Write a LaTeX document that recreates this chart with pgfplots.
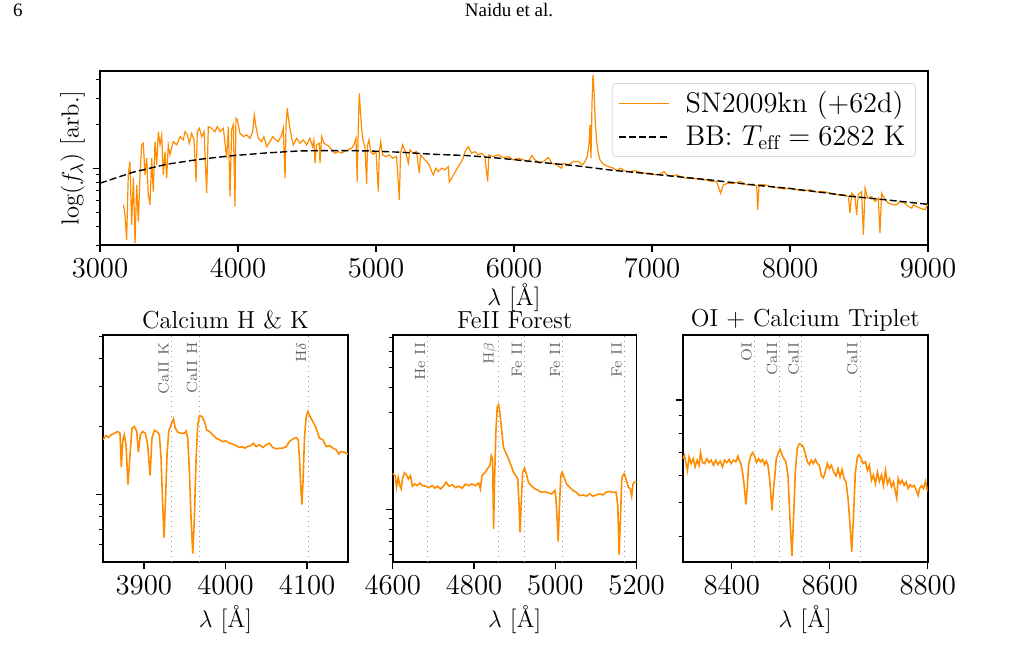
\documentclass[border=0pt]{standalone}
\usepackage{fontspec}
\usepackage{pgfplots}
\pgfplotsset{compat=1.18}
\newfontfamily\timesfont{Liberation Serif}
\definecolor{sporange}{HTML}{FF8C00}
\pgfplotsset{
  specax/.style={
    scale only axis,
    axis line style={line width=0.8pt},
    tick align=outside, tick pos=left,
    major tick length=3.5pt, minor tick length=2pt,
    every major tick/.style={black, line width=0.7pt},
    every minor tick/.style={black, line width=0.5pt},
    ytick={0}, yticklabel=\empty,
    xticklabel style={font=\fontsize{14.5}{16}\selectfont},
    /pgf/number format/1000 sep={},
    label style={font=\fontsize{12.3}{14}\selectfont},
    every axis title/.style={at={(axis description cs:0.5,1.066)}, anchor=center, font=\fontsize{12.3}{14}\selectfont},
  },
}
\tikzset{
  annot/.style={rotate=90, anchor=south east, inner sep=1pt, text=black!60, font=\fontsize{7.4}{8}\selectfont},
  vline/.style={black!40, dotted, line width=0.5pt},
}
\begin{document}
\begin{tikzpicture}
\useasboundingbox (0,0) rectangle (509pt,330pt);
\node[anchor=base west, font=\timesfont\fontsize{9.5}{11}\selectfont] at (3pt,321.5pt) {6};
\node[anchor=base, font=\timesfont\fontsize{9.5}{11}\selectfont] at (254.5pt,321.5pt) {Naidu et al.};

% ---------------- top panel ----------------
\begin{axis}[specax, at={(50pt,207.5pt)}, anchor=south west, width=414pt, height=87pt,
  xmin=3000, xmax=9000, ymin=-0.523, ymax=0.662,
  xtick={3000,4000,5000,6000,7000,8000,9000},
  minor ytick={-0.523,-0.398,-0.301,-0.222,-0.155,-0.097,-0.046,0.301,0.477,0.602},
  xlabel={$\lambda$ [\AA]}, xlabel style={at={(axis description cs:0.5,-0.305)}, anchor=center},
  ylabel={$\log(f_\lambda)$ [arb.]}, ylabel style={at={(axis description cs:-0.0332,0.5)}, anchor=center, rotate=0},
  legend style={at={(0.9855,0.931)}, anchor=north east, draw=black!15, rounded corners=2pt,
    fill=white, fill opacity=0.8, text opacity=1, font=\fontsize{14.2}{16}\selectfont,
    inner xsep=3pt, inner ysep=2pt, row sep=1pt},
  legend cell align=left,
  legend image code/.code={\draw[#1] (0pt,0pt) -- (25pt,0pt); \path (31pt,0pt);},
]
\addplot[sporange, line width=0.6pt, no markers] table {
3169 -0.249
3181 -0.317
3193 -0.488
3205 -0.045
3217 0.045
3229 -0.385
3242 -0.068
3254 -0.510
3266 -0.113
3278 -0.363
3290 -0.045
3302 0.159
3314 0.170
3326 -0.045
3338 0.068
3350 -0.181
3362 -0.249
3374 0.068
3386 -0.159
3399 0.181
3411 0.023
3423 0.249
3435 0.159
3447 0.227
3459 -0.045
3471 0.113
3483 -0.068
3495 0.159
3507 0.091
3519 0.136
3531 0.181
3556 0.159
3580 0.215
3604 0.193
3616 0.249
3633 0.227
3647 0.170
3664 0.238
3681 0.193
3696 -0.091
3705 0.249
3720 0.272
3737 0.215
3754 0.249
3773 -0.170
3785 0.283
3809 0.272
3833 0.249
3850 0.283
3870 0.249
3894 0.272
3918 0.068
3930 0.283
3942 -0.193
3954 0.261
3966 0.295
3978 -0.261
3985 0.340
3995 0.329
4014 0.238
4039 0.215
4063 0.227
4087 0.204
4106 0.249
4118 0.363
4130 0.283
4147 0.204
4171 0.181
4188 0.215
4208 0.147
4232 0.181
4251 0.215
4275 0.193
4292 0.181
4316 0.227
4328 0.272
4341 -0.068
4348 0.295
4357 0.408
4372 0.295
4389 0.204
4401 0.159
4425 0.204
4449 0.170
4473 0.193
4497 0.159
4521 0.204
4541 0.147
4550 0.193
4558 0.034
4570 0.159
4589 0.170
4594 0.034
4606 0.215
4623 0.170
4642 0.159
4662 0.147
4678 0.125
4703 0.102
4727 0.113
4751 0.102
4775 0.118
4799 0.125
4823 0.136
4840 0.159
4855 0.204
4864 -0.091
4872 0.295
4879 0.510
4889 0.363
4898 0.249
4908 0.181
4920 0.147
4932 -0.109
4939 0.159
4949 0.193
4961 0.113
4980 0.095
5000 0.113
5017 -0.159
5024 0.102
5034 0.181
5048 0.091
5072 0.079
5096 0.091
5120 0.068
5149 0.079
5169 -0.215
5178 0.102
5193 0.159
5217 0.102
5234 0.034
5246 0.125
5270 0.102
5294 0.113
5314 -0.034
5323 0.091
5343 0.068
5367 0.045
5386 0.023
5403 -0.023
5415 -0.045
5434 0.000
5451 -0.023
5476 0.000
5500 -0.011
5524 0.011
5531 -0.095
5632 0.068
5645 0.113
5669 0.147
5693 0.102
5717 0.113
5741 0.091
5765 0.102
5789 0.079
5809 -0.091
5818 0.091
5850 0.079
5886 0.091
5922 0.073
5959 0.079
5995 0.057
6031 0.068
6068 0.057
6104 0.045
6128 0.086
6152 0.057
6188 0.034
6213 0.045
6249 0.073
6273 0.034
6309 0.023
6345 0.000
6357 0.034
6394 0.023
6430 0.045
6466 0.045
6498 0.023
6514 0.045
6531 0.079
6543 0.159
6551 0.295
6558 0.068
6565 0.431
6572 0.635
6580 0.522
6589 0.317
6599 0.181
6611 0.102
6623 0.057
6647 0.027
6684 0.011
6720 0.000
6749 -0.018
6768 0.000
6804 -0.018
6841 -0.023
6877 -0.018
6913 -0.027
6949 -0.034
6985 -0.034
7022 -0.045
7058 -0.041
7087 -0.023
7106 -0.045
7142 -0.057
7179 -0.045
7215 -0.063
7251 -0.068
7287 -0.068
7324 -0.073
7360 -0.079
7396 -0.079
7432 -0.091
7468 -0.091
7497 -0.170
7517 -0.113
7553 -0.102
7590 -0.102
7638 -0.091
7686 -0.113
7735 -0.109
7759 -0.125
7766 -0.283
7776 -0.113
7819 -0.113
7855 -0.125
7904 -0.132
7952 -0.141
8000 -0.136
8049 -0.147
8097 -0.154
8145 -0.147
8193 -0.163
8242 -0.159
8290 -0.170
8338 -0.181
8387 -0.181
8423 -0.193
8435 -0.306
8447 -0.170
8471 -0.193
8483 -0.317
8495 -0.181
8519 -0.159
8532 -0.454
8544 -0.136
8561 -0.204
8592 -0.193
8616 -0.227
8640 -0.204
8652 -0.442
8664 -0.170
8689 -0.215
8713 -0.238
8749 -0.249
8773 -0.249
8797 -0.227
8833 -0.238
8858 -0.261
8882 -0.272
8894 -0.249
8918 -0.261
8942 -0.272
8978 -0.283
8998 -0.245
};
\addlegendentry{SN2009kn (+62d)}
\addplot[black, dash pattern=on 3.5pt off 1.6pt, line width=0.7pt, no markers] table {
3000 -0.102
3241 -0.027
3483 0.027
3725 0.061
3966 0.086
4208 0.104
4449 0.118
4688 0.120
4935 0.118
5174 0.109
5413 0.095
5659 0.086
5898 0.068
6210 0.038
6456 0.016
6695 -0.012
6935 -0.034
7181 -0.057
7420 -0.080
7732 -0.114
7978 -0.136
8217 -0.163
8456 -0.193
8703 -0.216
9000 -0.246
};
\addlegendentry{BB: $T_{\mathrm{eff}}=6282$ K}
\end{axis}

% ---------------- panel 1 ----------------
\begin{axis}[specax, at={(51.5pt,49pt)}, anchor=south west, width=122.5pt, height=113.5pt,
  xmin=3850, xmax=4150, ymin=-0.30, ymax=0.705,
  xtick={3900,4000,4100},
  minor ytick={-0.222,-0.155,-0.097,-0.046,0.301,0.477,0.602,0.699},
  title={Calcium H \& K},
  xlabel={$\lambda$ [\AA]}, xlabel style={at={(axis description cs:0.5,-0.255)}, anchor=center},
]
\draw[vline] (axis cs:3933.7,-0.30) -- (axis cs:3933.7,0.705);
\draw[vline] (axis cs:3968.5,-0.30) -- (axis cs:3968.5,0.705);
\draw[vline] (axis cs:4101.7,-0.30) -- (axis cs:4101.7,0.705);
\node[annot] at (axis cs:3933.7,0.683) {CaII K};
\node[annot] at (axis cs:3968.5,0.683) {CaII H};
\node[annot] at (axis cs:4101.7,0.683) {H$\delta$};
\addplot[sporange, line width=0.8pt, no markers] table {
3850.0 0.241
3853.7 0.260
3857.1 0.251
3859.8 0.263
3863.9 0.270
3868.0 0.278
3870.8 0.270
3872.5 0.119
3874.1 0.233
3876.1 0.263
3878.2 0.219
3880.6 0.043
3883.1 0.175
3885.5 0.292
3888.4 0.300
3891.3 0.278
3893.3 0.186
3895.7 0.263
3898.6 0.278
3901.9 0.270
3904.7 0.219
3907.6 0.084
3910.0 0.248
3912.9 0.283
3915.8 0.278
3919.0 0.263
3921.1 0.160
3923.1 -0.046
3924.7 -0.192
3926.4 -0.046
3928.4 0.175
3930.5 0.278
3933.3 0.307
3936.2 0.333
3938.6 0.292
3941.5 0.275
3945.6 0.270
3949.7 0.270
3951.7 0.280
3953.8 0.248
3955.8 0.101
3957.8 -0.104
3959.9 -0.263
3961.9 -0.104
3964.0 0.160
3966.0 0.307
3968.1 0.348
3971.3 0.344
3974.2 0.322
3977.0 0.285
3980.3 0.278
3984.4 0.263
3988.5 0.248
3992.6 0.241
3996.6 0.233
4000.7 0.236
4004.8 0.226
4008.9 0.222
4013.0 0.216
4017.1 0.207
4020.3 0.211
4023.2 0.204
4027.3 0.211
4031.4 0.216
4034.2 0.226
4037.5 0.211
4041.6 0.219
4045.7 0.207
4049.8 0.219
4053.8 0.226
4057.9 0.207
4062.0 0.201
4066.1 0.204
4070.2 0.204
4074.3 0.211
4078.3 0.233
4082.4 0.245
4086.5 0.251
4089.0 0.241
4090.6 0.160
4092.2 0.028
4093.5 -0.046
4095.1 0.072
4096.7 0.248
4098.8 0.344
4100.8 0.366
4103.7 0.344
4106.9 0.322
4111.0 0.292
4115.1 0.248
4119.2 0.241
4123.3 0.211
4127.4 0.216
4131.5 0.204
4135.5 0.197
4138.8 0.178
4141.7 0.189
4145.7 0.186
4150.0 0.178
};
\end{axis}

% ---------------- panel 2 ----------------
\begin{axis}[specax, at={(196.35pt,49pt)}, anchor=south west, width=122pt, height=113.5pt,
  xmin=4600, xmax=5200, ymin=-0.258, ymax=0.859,
  xtick={4600,4800,5000,5200},
  minor ytick={-0.222,-0.155,-0.097,-0.046,0.301,0.477,0.602,0.699,0.778,0.845},
  title={FeII Forest},
  xlabel={$\lambda$ [\AA]}, xlabel style={at={(axis description cs:0.5,-0.255)}, anchor=center},
]
\draw[vline] (axis cs:4686,-0.258) -- (axis cs:4686,0.859);
\draw[vline] (axis cs:4861,-0.258) -- (axis cs:4861,0.859);
\draw[vline] (axis cs:4924,-0.258) -- (axis cs:4924,0.859);
\draw[vline] (axis cs:5018,-0.258) -- (axis cs:5018,0.859);
\draw[vline] (axis cs:5169,-0.258) -- (axis cs:5169,0.859);
\node[annot] at (axis cs:4686,0.834) {He II};
\node[annot] at (axis cs:4861,0.834) {H$\beta$};
\node[annot] at (axis cs:4924,0.834) {Fe II};
\node[annot] at (axis cs:5018,0.834) {Fe II};
\node[annot] at (axis cs:5169,0.834) {Fe II};
\addplot[sporange, line width=0.8pt, no markers] table {
4600.0 0.176
4606.2 0.167
4609.4 0.110
4613.5 0.159
4617.6 0.118
4620.8 0.102
4624.1 0.151
4629.0 0.181
4633.9 0.171
4638.7 0.151
4643.6 0.167
4648.5 0.115
4655.0 0.126
4660.7 0.118
4666.4 0.131
4673.0 0.118
4681.1 0.115
4689.2 0.108
4697.4 0.118
4703.9 0.105
4709.6 0.115
4717.7 0.102
4725.9 0.118
4731.6 0.135
4738.1 0.115
4746.3 0.122
4754.4 0.108
4762.5 0.115
4770.7 0.105
4778.8 0.125
4787.0 0.118
4795.1 0.126
4803.3 0.118
4811.4 0.131
4815.5 0.102
4819.6 0.167
4827.7 0.184
4834.2 0.204
4839.1 0.217
4842.4 0.266
4845.6 0.250
4848.1 -0.095
4850.5 0.151
4853.8 0.381
4857.0 0.504
4860.3 0.516
4863.5 0.479
4868.4 0.381
4872.5 0.307
4878.2 0.279
4884.7 0.250
4891.2 0.217
4896.9 0.184
4902.6 0.167
4907.5 0.151
4910.8 0.020
4913.2 -0.112
4916.5 0.053
4919.7 0.184
4923.8 0.204
4928.7 0.176
4933.6 0.135
4941.7 0.115
4949.9 0.102
4958.0 0.094
4966.2 0.085
4974.3 0.089
4982.5 0.082
4990.6 0.077
4998.8 0.094
5001.2 0.061
5004.5 -0.046
5006.9 -0.158
5010.2 0.020
5013.4 0.167
5016.7 0.184
5021.6 0.159
5027.3 0.126
5035.4 0.110
5043.5 0.094
5051.7 0.085
5059.8 0.069
5068.0 0.072
5076.1 0.066
5084.3 0.077
5092.4 0.066
5100.6 0.072
5108.7 0.077
5116.9 0.072
5125.0 0.085
5133.1 0.089
5141.3 0.085
5149.4 0.085
5153.5 0.020
5156.8 -0.223
5160.0 -0.046
5163.3 0.151
5166.5 0.171
5169.8 0.176
5174.7 0.143
5179.6 0.110
5184.4 0.102
5187.7 0.066
5190.9 0.126
5194.2 0.135
5200.0 0.135
};
\end{axis}

% ---------------- panel 3 ----------------
\begin{axis}[specax, at={(341.35pt,49pt)}, anchor=south west, width=122.5pt, height=113.5pt,
  xmin=8300, xmax=8800, ymin=-0.474, ymax=0.19,
  xtick={8400,8600,8800},
  minor ytick={-0.398,-0.301,-0.222,-0.155,-0.097,-0.046},
  title={OI + Calcium Triplet},
  xlabel={$\lambda$ [\AA]}, xlabel style={at={(axis description cs:0.5,-0.255)}, anchor=center},
]
\draw[vline] (axis cs:8446,-0.474) -- (axis cs:8446,0.19);
\draw[vline] (axis cs:8498,-0.474) -- (axis cs:8498,0.19);
\draw[vline] (axis cs:8542,-0.474) -- (axis cs:8542,0.19);
\draw[vline] (axis cs:8662,-0.474) -- (axis cs:8662,0.19);
\node[annot] at (axis cs:8446,0.175) {OI};
\node[annot] at (axis cs:8498,0.175) {CaII};
\node[annot] at (axis cs:8542,0.175) {CaII};
\node[annot] at (axis cs:8662,0.175) {CaII};
\addplot[sporange, line width=0.8pt, no markers] table {
8300.0 -0.172
8303.6 -0.162
8306.3 -0.181
8309.7 -0.206
8313.1 -0.167
8317.2 -0.186
8321.3 -0.172
8325.4 -0.196
8329.5 -0.176
8333.5 -0.191
8336.3 -0.154
8340.4 -0.183
8344.5 -0.186
8349.2 -0.172
8354.0 -0.183
8358.1 -0.176
8362.8 -0.191
8367.6 -0.176
8371.7 -0.189
8376.5 -0.179
8381.2 -0.196
8385.3 -0.176
8390.1 -0.183
8394.9 -0.174
8398.9 -0.186
8403.7 -0.176
8408.5 -0.181
8412.6 -0.164
8415.3 -0.176
8418.7 -0.186
8422.1 -0.211
8425.5 -0.250
8428.9 -0.306
8431.7 -0.259
8434.4 -0.191
8438.5 -0.164
8442.6 -0.154
8446.7 -0.164
8450.8 -0.183
8454.8 -0.172
8458.9 -0.181
8463.0 -0.174
8467.1 -0.189
8470.5 -0.179
8473.9 -0.191
8477.3 -0.230
8480.7 -0.293
8482.1 -0.323
8484.8 -0.269
8487.5 -0.230
8491.0 -0.172
8494.4 -0.157
8498.5 -0.144
8502.5 -0.160
8506.6 -0.172
8510.7 -0.181
8514.8 -0.220
8518.9 -0.347
8523.0 -0.456
8526.4 -0.337
8529.8 -0.211
8533.9 -0.140
8538.0 -0.128
8542.1 -0.131
8546.1 -0.137
8550.2 -0.157
8554.3 -0.181
8558.4 -0.189
8562.5 -0.176
8566.6 -0.186
8570.7 -0.174
8574.8 -0.186
8578.9 -0.191
8582.9 -0.222
8587.0 -0.228
8591.1 -0.209
8595.2 -0.186
8599.3 -0.201
8603.4 -0.191
8608.2 -0.211
8612.9 -0.222
8617.0 -0.201
8621.1 -0.225
8625.2 -0.203
8629.3 -0.230
8633.4 -0.240
8637.4 -0.288
8641.6 -0.366
8644.9 -0.444
8648.4 -0.347
8652.4 -0.211
8656.5 -0.167
8659.9 -0.160
8664.0 -0.170
8668.1 -0.186
8672.9 -0.181
8677.0 -0.206
8681.1 -0.191
8685.2 -0.235
8689.2 -0.220
8693.3 -0.245
8697.4 -0.211
8701.5 -0.238
8705.6 -0.220
8709.7 -0.250
8713.8 -0.206
8717.9 -0.245
8721.9 -0.230
8726.0 -0.254
8730.1 -0.240
8734.2 -0.269
8736.9 -0.288
8739.7 -0.230
8743.8 -0.245
8747.8 -0.235
8751.9 -0.250
8756.0 -0.240
8760.1 -0.259
8764.2 -0.248
8768.3 -0.254
8772.4 -0.250
8776.5 -0.264
8780.6 -0.279
8783.3 -0.259
8787.4 -0.251
8791.4 -0.259
8795.5 -0.238
8800.0 -0.269
};
\end{axis}
\end{tikzpicture}
\end{document}
